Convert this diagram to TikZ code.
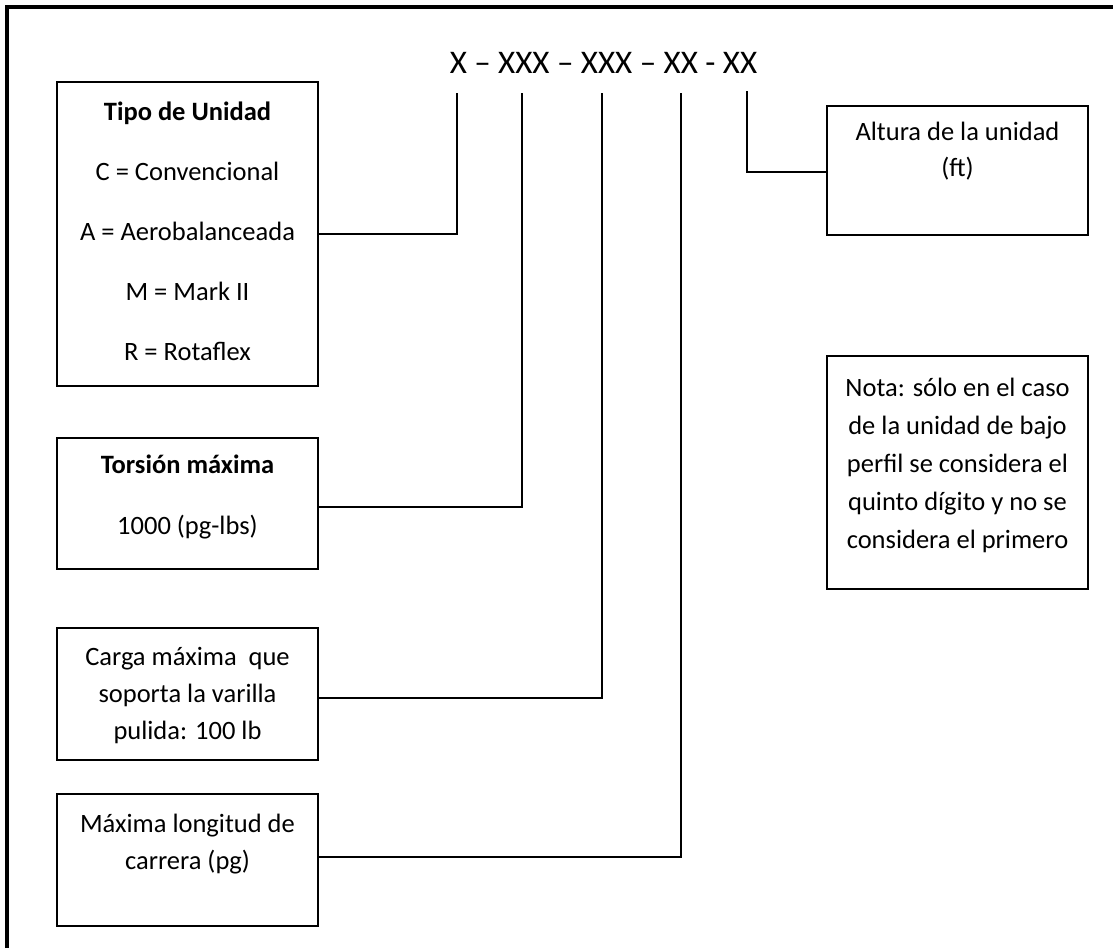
\documentclass[tikz,border=0pt]{standalone}
\usepackage{fontspec}
\setmainfont{Carlito}
\begin{document}
\begin{tikzpicture}[x=0.5pt,y=-0.5pt,
  box/.style={draw, line width=1pt, inner sep=0pt, minimum width=130.5pt},
  txt/.style={align=center, inner sep=0pt, font=\fontsize{13.25}{#1}\selectfont,
    execute at begin node=\strut, execute at end node=\strut},
  conn/.style={draw, line width=1pt},
  frame/.style={line width=1.75pt}]
\useasboundingbox (0,0) rectangle (1113,948);

% outer frame (top and left edges)
\draw[frame] (7,948) -- (7,7) -- (1113,7);

% model code
\node[font=\fontsize{16.5}{20}\selectfont, inner sep=0pt] (code) at (603.5,63)
  {X – XXX – XXX – XX - XX};

% tops of the code leaders
\coordinate (k1) at (457,93);
\coordinate (k2) at (522,93);
\coordinate (k3) at (602,93);
\coordinate (k4) at (681,93);
\coordinate (k5) at (747,91);

% left column boxes
\node[box, minimum height=152pt] (b1) at (187.5,234) {};
\node[txt=30] (t1) at (187.5,240)
  {\textbf{Tipo de Unidad}\\C = Convencional\\A = Aerobalanceada\\M = Mark II\\R = Rotaflex};

\node[box, minimum height=65.5pt] (b2) at (187.5,503.5) {};
\node[txt=30.5] (t2) at (187.5,503.8) {\textbf{Torsión máxima}\\1000 (pg-lbs)};

\node[box, minimum height=66pt] (b3) at (187.5,694) {};
\node[txt=18.5] (t3) at (187.5,698.6) {Carga máxima\ \ que\\soporta la varilla\\pulida: 100 lb};

\node[box, minimum height=66pt] (b4) at (187.5,860) {};
\node[txt=18.5] (t4) at (187.5,847.1) {Máxima longitud de\\carrera (pg)};

% right column boxes
\node[box, minimum height=64.5pt] (b5) at (957.5,170.5) {};
\node[txt=18] (t5) at (957.5,154.8) {Altura de la unidad\\(ft)};

\node[box, minimum height=116.5pt] (b6) at (957.5,472.5) {};
\node[txt=19.1] (t6) at (957.5,469)
  {Nota: sólo en el caso\\de la unidad de bajo\\perfil se considera el\\quinto dígito y no se\\considera el primero};

% leaders from the boxes to the code
\draw[conn] (b1.east) -| (k1);
\draw[conn] ([yshift=-1.75pt]b2.east) -| (k2);
\draw[conn] ([yshift=-2pt]b3.east) -| (k3);
\draw[conn] ([yshift=1.5pt]b4.east) -| (k4);
\draw[conn] (k5) |- ([yshift=-0.75pt]b5.west);
\end{tikzpicture}
\end{document}
